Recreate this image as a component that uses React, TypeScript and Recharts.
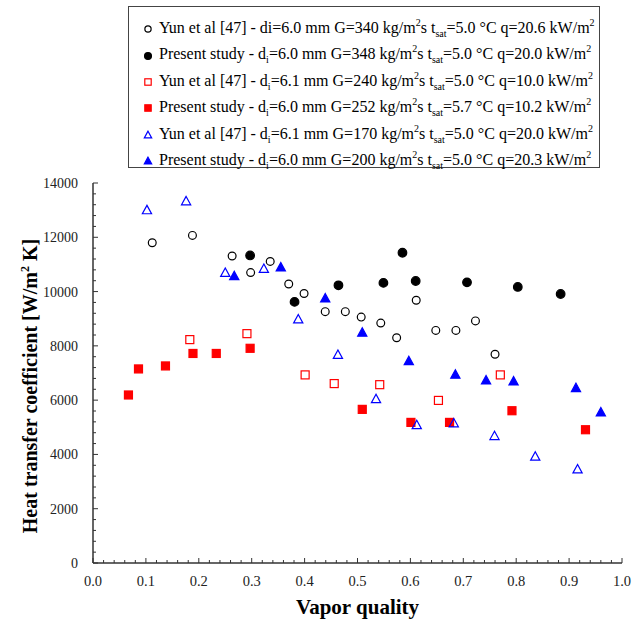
import React from 'react'
import { ScatterChart, Scatter, XAxis, YAxis, Legend } from 'recharts'

// [vapor quality, heat transfer coefficient]
const yun340 = [
  [0.112, 11800], [0.188, 12070], [0.263, 11310], [0.298, 10700], [0.335, 11110],
  [0.37, 10280], [0.399, 9930], [0.439, 9260], [0.477, 9260], [0.507, 9060],
  [0.544, 8840], [0.574, 8300], [0.611, 9680], [0.648, 8570], [0.686, 8570],
  [0.723, 8920], [0.76, 7690]
]
const present348 = [
  [0.297, 11330], [0.381, 9620], [0.464, 10230], [0.549, 10320], [0.585, 11430],
  [0.61, 10390], [0.707, 10340], [0.803, 10170], [0.884, 9910]
]
const yun240 = [
  [0.183, 8230], [0.291, 8450], [0.401, 6930], [0.456, 6610], [0.542, 6570],
  [0.653, 5990], [0.77, 6930]
]
const present252 = [
  [0.067, 6190], [0.086, 7150], [0.137, 7260], [0.189, 7720], [0.233, 7720],
  [0.297, 7910], [0.509, 5660], [0.601, 5180], [0.674, 5180], [0.792, 5610],
  [0.931, 4910]
]
const yun170 = [
  [0.102, 13000], [0.176, 13330], [0.25, 10690], [0.323, 10840], [0.388, 8980],
  [0.463, 7670], [0.535, 6040], [0.612, 5080], [0.682, 5150], [0.759, 4680],
  [0.836, 3920], [0.916, 3450]
]
const present200 = [
  [0.267, 10570], [0.355, 10890], [0.439, 9750], [0.509, 8490], [0.597, 7440],
  [0.685, 6940], [0.743, 6730], [0.795, 6690], [0.913, 6450], [0.96, 5550]
]

const xMajorTicks = [0, 0.1, 0.2, 0.3, 0.4, 0.5, 0.6, 0.7, 0.8, 0.9, 1.0]
const yMajorTicks = [0, 2000, 4000, 6000, 8000, 10000, 12000, 14000]

type Kind = 'circle' | 'square' | 'triangle'

const series = [
  { key: 'yun340', data: yun340, kind: 'circle' as Kind, filled: false, color: '#000000',
    author: 'Yun et al [47]', dPlain: true, d: '6.0', G: '340', tsat: '5.0', q: '20.6' },
  { key: 'present348', data: present348, kind: 'circle' as Kind, filled: true, color: '#000000',
    author: 'Present study', dPlain: false, d: '6.0', G: '348', tsat: '5.0', q: '20.0' },
  { key: 'yun240', data: yun240, kind: 'square' as Kind, filled: false, color: '#ff0000',
    author: 'Yun et al [47]', dPlain: false, d: '6.1', G: '240', tsat: '5.0', q: '10.0' },
  { key: 'present252', data: present252, kind: 'square' as Kind, filled: true, color: '#ff0000',
    author: 'Present study', dPlain: false, d: '6.0', G: '252', tsat: '5.7', q: '10.2' },
  { key: 'yun170', data: yun170, kind: 'triangle' as Kind, filled: false, color: '#0000ff',
    author: 'Yun et al [47]', dPlain: false, d: '6.1', G: '170', tsat: '5.0', q: '20.0' },
  { key: 'present200', data: present200, kind: 'triangle' as Kind, filled: true, color: '#0000ff',
    author: 'Present study', dPlain: false, d: '6.0', G: '200', tsat: '5.0', q: '20.3' }
]

const FONT = '"Liberation Serif", "Times New Roman", serif'
const AXIS = '#333'

const Marker = ({ cx, cy, kind, filled, color, scale = 1 }: any) => {
  if (cx == null || cy == null) return null
  const fill = filled ? color : 'none'
  if (kind === 'circle') {
    const r = (filled ? 4.3 : 3.9) * scale
    return <circle cx={cx} cy={cy} r={r} fill={fill} stroke={color} strokeWidth={1.2} />
  }
  if (kind === 'square') {
    const s = 8 * scale
    return <rect x={cx - s / 2} y={cy - s / 2} width={s} height={s} fill={fill} stroke={color} strokeWidth={1.2} />
  }
  const h = 4.8 * scale
  const w = 4.6 * scale
  const pts = `${cx},${cy - h} ${cx - w},${cy + h * 0.75} ${cx + w},${cy + h * 0.75}`
  return <polygon points={pts} fill={fill} stroke={color} strokeWidth={1.2} />
}

const sub: React.CSSProperties = { fontSize: 10, position: 'relative', top: 4, lineHeight: 0 }
const sup: React.CSSProperties = { fontSize: 10, position: 'relative', top: -7, lineHeight: 0 }

const LegendBox = () => (
  <div
    style={{
      width: 472, height: 162, boxSizing: 'border-box', border: '1.5px solid #444',
      background: '#fff', fontFamily: FONT, fontSize: 16, color: '#000', paddingTop: 8
    }}
  >
    {series.map((s) => (
      <div key={s.key} style={{ height: 26.4, lineHeight: '26.4px', whiteSpace: 'nowrap', display: 'flex', alignItems: 'center' }}>
        <svg width={30} height={20} style={{ flex: 'none' }}>
          <Marker cx={19} cy={11} kind={s.kind} filled={s.filled} color={s.color} scale={0.8} />
        </svg>
        <span>
          {s.author} - d{s.dPlain ? 'i' : <span style={sub}>i</span>}={s.d} mm G={s.G} kg/m<span style={sup}>2</span>s t
          <span style={sub}>sat</span>={s.tsat} °C q={s.q} kW/m<span style={sup}>2</span>
        </span>
      </div>
    ))}
  </div>
)

const isMajor = (v: number, step: number) => Math.abs(v / step - Math.round(v / step)) < 1e-6

const xMinor: number[] = []
for (let i = 0; i <= 50; i++) xMinor.push(Math.round(i * 2) / 100)
const yMinor: number[] = []
for (let i = 0; i <= 35; i++) yMinor.push(i * 400)

const BottomTick = ({ x, y, payload }: any) => {
  const major = isMajor(payload.value, 0.1)
  return (
    <g>
      <line x1={x} y1={y} x2={x} y2={y - (major ? 5 : 3)} stroke={AXIS} strokeWidth={1} />
      {major && (
        <text x={x} y={y + 22.5} textAnchor="middle" fontFamily={FONT} fontSize={14.5} fill="#222">
          {payload.value.toFixed(1)}
        </text>
      )}
    </g>
  )
}
const TopTick = ({ x, y, payload }: any) => (
  <line x1={x} y1={y} x2={x} y2={y + (isMajor(payload.value, 0.1) ? 5 : 3)} stroke={AXIS} strokeWidth={1} />
)
const LeftTick = ({ x, y, payload }: any) => {
  const major = isMajor(payload.value, 2000)
  return (
    <g>
      <line x1={x} y1={y} x2={x + (major ? 5 : 3)} y2={y} stroke={AXIS} strokeWidth={1} />
      {major && (
        <text x={x - 15} y={y + 5} textAnchor="end" fontFamily={FONT} fontSize={14} fill="#222">
          {payload.value}
        </text>
      )}
    </g>
  )
}
const RightTick = ({ x, y, payload }: any) => (
  <line x1={x} y1={y} x2={x - (isMajor(payload.value, 2000) ? 5 : 3)} y2={y} stroke={AXIS} strokeWidth={1} />
)

const YTitle = ({ viewBox }: any) => {
  const cx = 37
  const cy = viewBox.y + viewBox.height / 2 + 13
  return (
    <text
      x={cx} y={cy} transform={`rotate(-90, ${cx}, ${cy})`} textAnchor="middle"
      fontFamily={FONT} fontSize={20} fontWeight="bold" fill="#000"
    >
      Heat transfer coefficient [W/m<tspan dy={-8} fontSize={12}>2</tspan>
      <tspan dy={8}> K]</tspan>
    </text>
  )
}
const XTitle = ({ viewBox }: any) => (
  <text
    x={viewBox.x + viewBox.width / 2} y={614} textAnchor="middle"
    fontFamily={FONT} fontSize={21} fontWeight="bold" fill="#000"
  >
    Vapor quality
  </text>
)

export default function App() {
  return (
    <div style={{ position: 'absolute', left: 0, top: 0, width: 638, height: 620, background: '#fff' }}>
      <ScatterChart width={638} height={620} margin={{ top: 183, right: 16, bottom: 0, left: 0 }}>
        <XAxis
          type="number" dataKey="x" domain={[0, 1]} ticks={xMinor} interval={0}
          height={57} tickSize={0} tickMargin={0} tick={<BottomTick />}
          axisLine={{ stroke: AXIS, strokeWidth: 1.5 }} tickLine={false}
          label={<XTitle />} allowDataOverflow
        />
        <XAxis
          xAxisId="top" orientation="top" type="number" domain={[0, 1]} ticks={xMinor} interval={0}
          height={0} tickSize={0} tickMargin={0} tick={<TopTick />}
          axisLine={{ stroke: AXIS, strokeWidth: 1.5 }} tickLine={false} allowDataOverflow
        />
        <YAxis
          type="number" dataKey="y" domain={[0, 14000]} ticks={yMinor} interval={0}
          width={93} tickSize={0} tickMargin={0} tick={<LeftTick />}
          axisLine={{ stroke: AXIS, strokeWidth: 1.5 }} tickLine={false}
          label={<YTitle />} allowDataOverflow
        />
        <YAxis
          yAxisId="right" orientation="right" type="number" domain={[0, 14000]} ticks={yMinor} interval={0}
          width={0} tickSize={0} tickMargin={0} tick={<RightTick />}
          axisLine={{ stroke: AXIS, strokeWidth: 1.5 }} tickLine={false} allowDataOverflow
        />
        <Legend
          layout="horizontal" verticalAlign="middle" align="center"
          wrapperStyle={{ top: 6, left: 128, width: 472, height: 162 }}
          content={() => <LegendBox />}
        />
        {series.map((s) => (
          <Scatter
            key={s.key}
            name={s.author}
            data={s.data.map(([x, y]) => ({ x, y }))}
            isAnimationActive={false}
            shape={(p: any) => <Marker cx={p.cx} cy={p.cy} kind={s.kind} filled={s.filled} color={s.color} />}
          />
        ))}
      </ScatterChart>
    </div>
  )
}
